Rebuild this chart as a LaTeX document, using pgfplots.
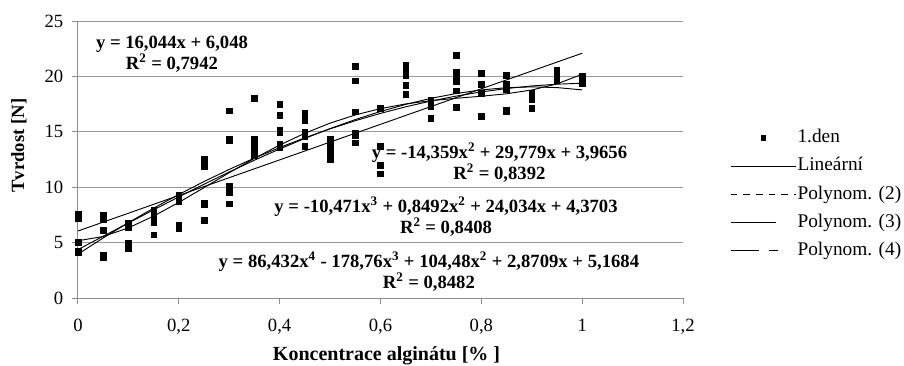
\documentclass[border=0pt]{standalone}
\usepackage{fontspec}
\setmainfont{Liberation Serif}
\usepackage{pgfplots}
\usepackage{pgfplotstable}
\pgfplotsset{compat=1.18}

% Legend samples: every sample occupies a cell 48.75pt wide
\pgfplotsset{
  den sample/.style={legend image code/.code={%
    \path[draw=none] (0pt,0pt) -- (48.75pt,0pt);
    \fill[black] (22.7pt,-1.7pt) rectangle (26.1pt,1.7pt);}},
  trend sample/.style={legend image code/.code={%
    \draw[##1] (0pt,0pt) -- (48.75pt,0pt);}},
}

% Hardness measurements after day 1, grouped by alginate concentration
\pgfplotstableread{
x y
0 7.55
0 7.35
0 7.15
0 5.05
0 4.25
0 4.15
0.05 7.50
0.05 7.05
0.05 6.10
0.05 3.90
0.05 3.75
0.05 3.65
0.10 6.80
0.10 6.60
0.10 6.40
0.10 5.00
0.10 4.80
0.10 4.50
0.15 7.90
0.15 7.70
0.15 7.10
0.15 6.80
0.15 5.70
0.20 9.30
0.20 9.10
0.20 8.90
0.20 8.70
0.20 6.60
0.20 6.30
0.25 12.50
0.25 12.20
0.25 11.90
0.25 8.60
0.25 8.40
0.25 7.00
0.30 16.90
0.30 14.30
0.30 14.20
0.30 10.10
0.30 9.50
0.30 8.50
0.35 18.00
0.35 14.30
0.35 14.10
0.35 13.60
0.35 13.20
0.35 12.90
0.40 17.50
0.40 16.50
0.40 15.20
0.40 14.90
0.40 13.90
0.40 13.60
0.45 16.70
0.45 16.40
0.45 16.00
0.45 15.00
0.45 14.60
0.45 13.70
0.50 14.30
0.50 13.90
0.50 13.40
0.50 12.90
0.50 12.50
0.55 20.90
0.55 19.60
0.55 16.80
0.55 14.90
0.55 14.70
0.55 14.00
0.60 17.10
0.60 13.70
0.60 12.00
0.60 11.20
0.65 21.00
0.65 20.50
0.65 20.10
0.65 19.20
0.65 18.40
0.70 17.90
0.70 17.60
0.70 17.30
0.70 16.20
0.75 21.90
0.75 20.40
0.75 20.00
0.75 19.50
0.75 18.70
0.75 17.20
0.80 20.30
0.80 19.30
0.80 18.50
0.80 16.40
0.85 20.10
0.85 19.30
0.85 18.80
0.85 17.00
0.85 16.80
0.90 18.50
0.90 18.20
0.90 17.90
0.90 17.10
0.95 20.60
0.95 20.30
0.95 20.00
0.95 19.60
1.00 20.00
1.00 19.70
1.00 19.40
}\hardness

% Trend lines evaluated at the sampled concentrations
\pgfplotstableread{
x lin p2 p3 p4
0    6.048  3.9656  4.3703  5.1684
0.05 6.850  5.4187  5.5728  5.5513
0.10 7.652  6.7999  6.7717  6.3302
0.15 8.455  8.1094  7.9592  7.3903
0.20 9.257  9.3470  9.1273  8.6300
0.25 10.059 10.5129 10.2683 9.9606
0.30 10.861 11.6070 11.3742 11.3065
0.35 11.663 12.6293 12.4373 12.6047
0.40 12.466 13.5798 13.4496 13.8056
0.45 13.268 14.4585 14.4034 14.8723
0.50 14.070 15.2654 15.2907 15.7809
0.55 14.872 16.0005 16.1038 16.5205
0.60 15.674 16.6638 16.8347 17.0932
0.65 16.477 17.2553 17.4756 17.5140
0.70 17.279 17.7750 18.0187 17.8109
0.75 18.081 18.2229 18.4560 18.0248
0.80 18.883 18.5990 18.7798 18.2098
0.85 19.685 18.9034 18.9822 18.4325
0.90 20.488 19.1359 19.0554 18.7730
0.95 21.290 19.2967 18.9915 19.3240
1.00 22.092 19.3856 18.7825 20.1913
}\trends

\begin{document}
\begin{tikzpicture}
\begin{axis}[
  at={(0pt,0pt)}, anchor=south west,
  scale only axis, width=453.75pt, height=207.75pt,
  xmin=0, xmax=1.2, ymin=0, ymax=25,
  axis lines*=left,
  axis line style={draw=black!45, line width=0.75pt},
  xtick={0,0.2,0.4,0.6,0.8,1,1.2},
  xticklabels={0,{0,2},{0,4},{0,6},{0,8},1,{1,2}},
  ytick={0,5,10,15,20,25},
  tick align=outside, major tick length=4.5pt,
  tick style={draw=black!45, line width=0.75pt},
  ymajorgrids, major grid style={draw=black!40, line width=0.75pt},
  /pgf/number format/assume math mode=true,
  ticklabel style={font=\fontsize{14}{17}\selectfont},
  xticklabel style={yshift=-7.5pt},
  yticklabel style={xshift=-3pt},
  xlabel={Koncentrace alginátu [\% ]},
  ylabel={Tvrdost [N]},
  every axis x label/.style={at={(axis description cs:0.51,0)}, anchor=center,
    yshift=-43.5pt, font=\bfseries\fontsize{15}{18}\selectfont},
  every axis y label/.style={at={(axis description cs:0,0.55)}, xshift=-44.25pt,
    rotate=90, anchor=center, font=\bfseries\fontsize{14}{17}\selectfont},
  clip=false,
  legend style={draw=none, fill=none, inner sep=0pt,
    at={(axis description cs:1.0777,0.614)}, anchor=north west,
    font=\fontsize{14.5}{17}\selectfont, row sep=6.6pt,
    nodes={inner xsep=1pt, inner ysep=0pt, text height=11pt, text depth=3.5pt}},
  legend cell align=left,
]
\addplot[only marks, mark=square*, mark size=2.1pt, black, den sample]
  table[x=x, y=y] {\hardness};
\addlegendentry{1.den}

\addplot[black, line width=0.7pt, trend sample] table[x=x, y=lin] {\trends};
\addlegendentry{Lineární}

\addplot[black, line width=0.7pt, trend sample,
  legend image post style={dash pattern=on 5pt off 4.5pt}] table[x=x, y=p2] {\trends};
\addlegendentry{Polynom. (2)}

\addplot[black, line width=0.7pt, trend sample,
  legend image post style={dash pattern=on 34pt off 15pt}] table[x=x, y=p3] {\trends};
\addlegendentry{Polynom. (3)}

\addplot[black, line width=0.7pt, trend sample,
  legend image post style={dash pattern=on 21pt off 7.5pt on 6.75pt off 14pt}] table[x=x, y=p4] {\trends};
\addlegendentry{Polynom. (4)}

% Fitted equations with their coefficients of determination
\begin{scope}[every node/.style={align=center, font=\bfseries\fontsize{14}{14.5}\selectfont}]
\node at (axis cs:0.1864,22.02) {y = 16,044x + 6,048\\R\textsuperscript{2} = 0,7942};
\node at (axis cs:0.836,12.23) {y = -14,359x\textsuperscript{2} + 29,779x + 3,9656\\R\textsuperscript{2} = 0,8392};
\node at (axis cs:0.730,7.31) {y = -10,471x\textsuperscript{3} + 0,8492x\textsuperscript{2} + 24,034x + 4,3703\\R\textsuperscript{2} = 0,8408};
\node at (axis cs:0.696,2.39) {y = 86,432x\textsuperscript{4} - 178,76x\textsuperscript{3} + 104,48x\textsuperscript{2} + 2,8709x + 5,1684\\R\textsuperscript{2} = 0,8482};
\end{scope}
\end{axis}
\pgfresetboundingbox
\path (-58.5pt,-50.25pt) rectangle (619.5pt,223.5pt);
\end{tikzpicture}
\end{document}
